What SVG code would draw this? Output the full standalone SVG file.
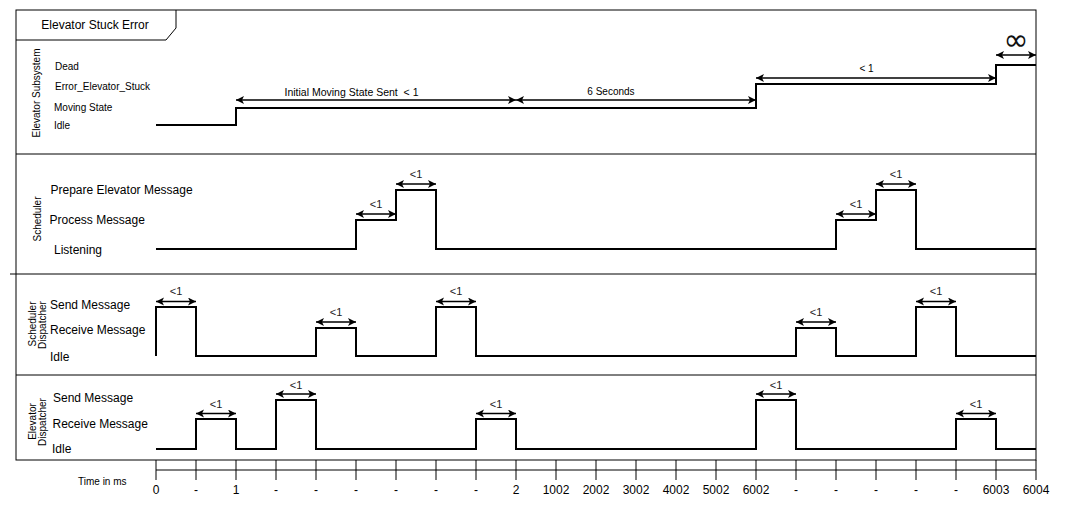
<svg xmlns="http://www.w3.org/2000/svg" width="1082" height="517" viewBox="0 0 1082 517">
  <style>
    text { font-family: "Liberation Sans", Arial, sans-serif; fill: #000; }
    .frame { fill: none; stroke: #000; stroke-width: 1; }
    .sig { fill: none; stroke: #000; stroke-width: 2; stroke-linejoin: miter; }
    .dim { fill: none; stroke: #000; stroke-width: 1.3; marker-start: url(#ah); marker-end: url(#ah); }
    .s10 { font-size: 10px; }
    .s11 { font-size: 11px; }
    .s12 { font-size: 12px; }
    .lt { font-size: 11px; fill: #222; text-anchor: middle; }
    .mid { text-anchor: middle; }
    .tick { stroke: #000; stroke-width: 1; }
  </style>
  <defs>
    <marker id="ah" markerUnits="userSpaceOnUse" markerWidth="10" markerHeight="10" viewBox="0 0 10 10" refX="8" refY="4" orient="auto-start-reverse">
      <path d="M0,0 L8,4 L0,8 L2,4 Z" fill="#000"/>
    </marker>
  </defs>
  <rect x="0" y="0" width="1082" height="517" fill="#fff"/>

  <g id="frame">
    <rect class="frame" x="16" y="10" width="1020" height="450"/>
    <path class="frame" d="M16,40 H166 L176,28 V10"/>
    <text class="s12 mid" x="95" y="29">Elevator Stuck Error</text>
    <line class="frame" x1="16" y1="154" x2="1036" y2="154"/>
    <line class="frame" x1="10" y1="274" x2="1036" y2="274"/>
    <line class="frame" x1="16" y1="375" x2="1036" y2="375"/>
  </g>

  <g id="lane-elevator-subsystem">
    <text class="s10 mid" transform="translate(40,93) rotate(-90)">Elevator Subsystem</text>
    <text class="s10" x="55" y="69.5">Dead</text>
    <text class="s10" x="55" y="89.5">Error_Elevator_Stuck</text>
    <text class="s10" x="54" y="111">Moving State</text>
    <text class="s10" x="54" y="129">Idle</text>
    <path class="sig" d="M156,125 H236 V108 H756 V84 H996 V65 H1036"/>
  </g>

  <g id="lane-scheduler">
    <text class="s10 mid" transform="translate(40.5,219) rotate(-90)">Scheduler</text>
    <text class="s12" x="50.5" y="193.5">Prepare Elevator Message</text>
    <text class="s12" x="49.5" y="224">Process Message</text>
    <text class="s12" x="54" y="253.5">Listening</text>
    <path class="sig" d="M156,249 H356 V220 H396 V190 H436 V249 H836 V220 H876 V190 H916 V249 H1036"/>
  </g>

  <g id="lane-scheduler-dispatcher">
    <text class="s10 mid" transform="translate(35.5,324) rotate(-90)">Scheduler</text>
    <text class="s10 mid" transform="translate(46,325) rotate(-90)">Dispatcher</text>
    <text class="s12" x="50" y="308.5">Send Message</text>
    <text class="s12" x="50" y="334">Receive Message</text>
    <text class="s12" x="50" y="361">Idle</text>
    <path class="sig" d="M156,356 V307 H196 V356 H316 V328 H356 V356 H436 V307 H476 V356 H796 V328 H836 V356 H916 V307 H956 V356 H1036"/>
  </g>

  <g id="lane-elevator-dispatcher">
    <text class="s10 mid" transform="translate(35.5,421.5) rotate(-90)">Elevator</text>
    <text class="s10 mid" transform="translate(46,422) rotate(-90)">Dispatcher</text>
    <text class="s12" x="53" y="402">Send Message</text>
    <text class="s12" x="52.5" y="427.5">Receive Message</text>
    <text class="s12" x="52" y="452.5">Idle</text>
    <path class="sig" d="M156,449 H196 V419 H236 V449 H276 V400 H316 V449 H476 V419 H516 V449 H756 V400 H796 V449 H956 V419 H996 V449 H1036"/>
  </g>

  <g id="time-axis">
    <text class="s10" x="78" y="484.5">Time in ms</text>
    <line class="tick" x1="156" y1="470" x2="1036" y2="470"/>
    <path class="tick" d="M156,460V480 M196,460V480 M236,460V480 M276,460V480 M316,460V480 M356,460V480 M396,460V480 M436,460V480 M476,460V480 M516,460V480 M556,460V480 M596,460V480 M636,460V480 M676,460V480 M716,460V480 M756,460V480 M796,460V480 M836,460V480 M876,460V480 M916,460V480 M956,460V480 M996,460V480 M1036,460V480"/>
    <g class="s12 mid">
      <text x="156" y="494">0</text>
      <text x="196" y="494">-</text>
      <text x="236" y="494">1</text>
      <text x="276" y="494">-</text>
      <text x="316" y="494">-</text>
      <text x="356" y="494">-</text>
      <text x="396" y="494">-</text>
      <text x="436" y="494">-</text>
      <text x="476" y="494">-</text>
      <text x="516" y="494">2</text>
      <text x="556" y="494">1002</text>
      <text x="596" y="494">2002</text>
      <text x="636" y="494">3002</text>
      <text x="676" y="494">4002</text>
      <text x="716" y="494">5002</text>
      <text x="756" y="494">6002</text>
      <text x="796" y="494">-</text>
      <text x="836" y="494">-</text>
      <text x="876" y="494">-</text>
      <text x="916" y="494">-</text>
      <text x="956" y="494">-</text>
      <text x="996" y="494">6003</text>
      <text x="1036" y="494">6004</text>
    </g>
  </g>

  <g id="connectors">
    <line class="dim" x1="236" y1="100" x2="516" y2="100"/>
    <text class="mid" x="351.5" y="96" style="font-size:10.5px" xml:space="preserve">Initial Moving State Sent  &lt; 1</text>
    <line class="dim" x1="516" y1="100" x2="756" y2="100"/>
    <text class="s10 mid" x="611" y="95">6 Seconds</text>
    <line class="dim" x1="756" y1="78" x2="996" y2="78"/>
    <text class="s10 mid" x="866.5" y="72">&lt; 1</text>
    <line class="dim" x1="996" y1="55" x2="1036" y2="55"/>
    <text class="mid" x="1016" y="50" style="font-family:'DejaVu Sans', sans-serif; font-size:30px; fill:#111">∞</text>

    <line class="dim" x1="356" y1="214" x2="396" y2="214"/>
    <text class="lt" x="376" y="208">&lt;1</text>
    <line class="dim" x1="396" y1="184" x2="436" y2="184"/>
    <text class="lt" x="416" y="178">&lt;1</text>
    <line class="dim" x1="836" y1="214" x2="876" y2="214"/>
    <text class="lt" x="856" y="208">&lt;1</text>
    <line class="dim" x1="876" y1="184" x2="916" y2="184"/>
    <text class="lt" x="896" y="178">&lt;1</text>

    <line class="dim" x1="156" y1="301.5" x2="196" y2="301.5"/>
    <text class="lt" x="176" y="295">&lt;1</text>
    <line class="dim" x1="316" y1="322" x2="356" y2="322"/>
    <text class="lt" x="336" y="315.5">&lt;1</text>
    <line class="dim" x1="436" y1="301.5" x2="476" y2="301.5"/>
    <text class="lt" x="456" y="295">&lt;1</text>
    <line class="dim" x1="796" y1="322" x2="836" y2="322"/>
    <text class="lt" x="816" y="315.5">&lt;1</text>
    <line class="dim" x1="916" y1="301.5" x2="956" y2="301.5"/>
    <text class="lt" x="936" y="295">&lt;1</text>

    <line class="dim" x1="196" y1="413.5" x2="236" y2="413.5"/>
    <text class="lt" x="216" y="408">&lt;1</text>
    <line class="dim" x1="276" y1="394" x2="316" y2="394"/>
    <text class="lt" x="296" y="389">&lt;1</text>
    <line class="dim" x1="476" y1="413.5" x2="516" y2="413.5"/>
    <text class="lt" x="496" y="408">&lt;1</text>
    <line class="dim" x1="756" y1="394" x2="796" y2="394"/>
    <text class="lt" x="776" y="389">&lt;1</text>
    <line class="dim" x1="956" y1="413.5" x2="996" y2="413.5"/>
    <text class="lt" x="976" y="408">&lt;1</text>
  </g>
</svg>
